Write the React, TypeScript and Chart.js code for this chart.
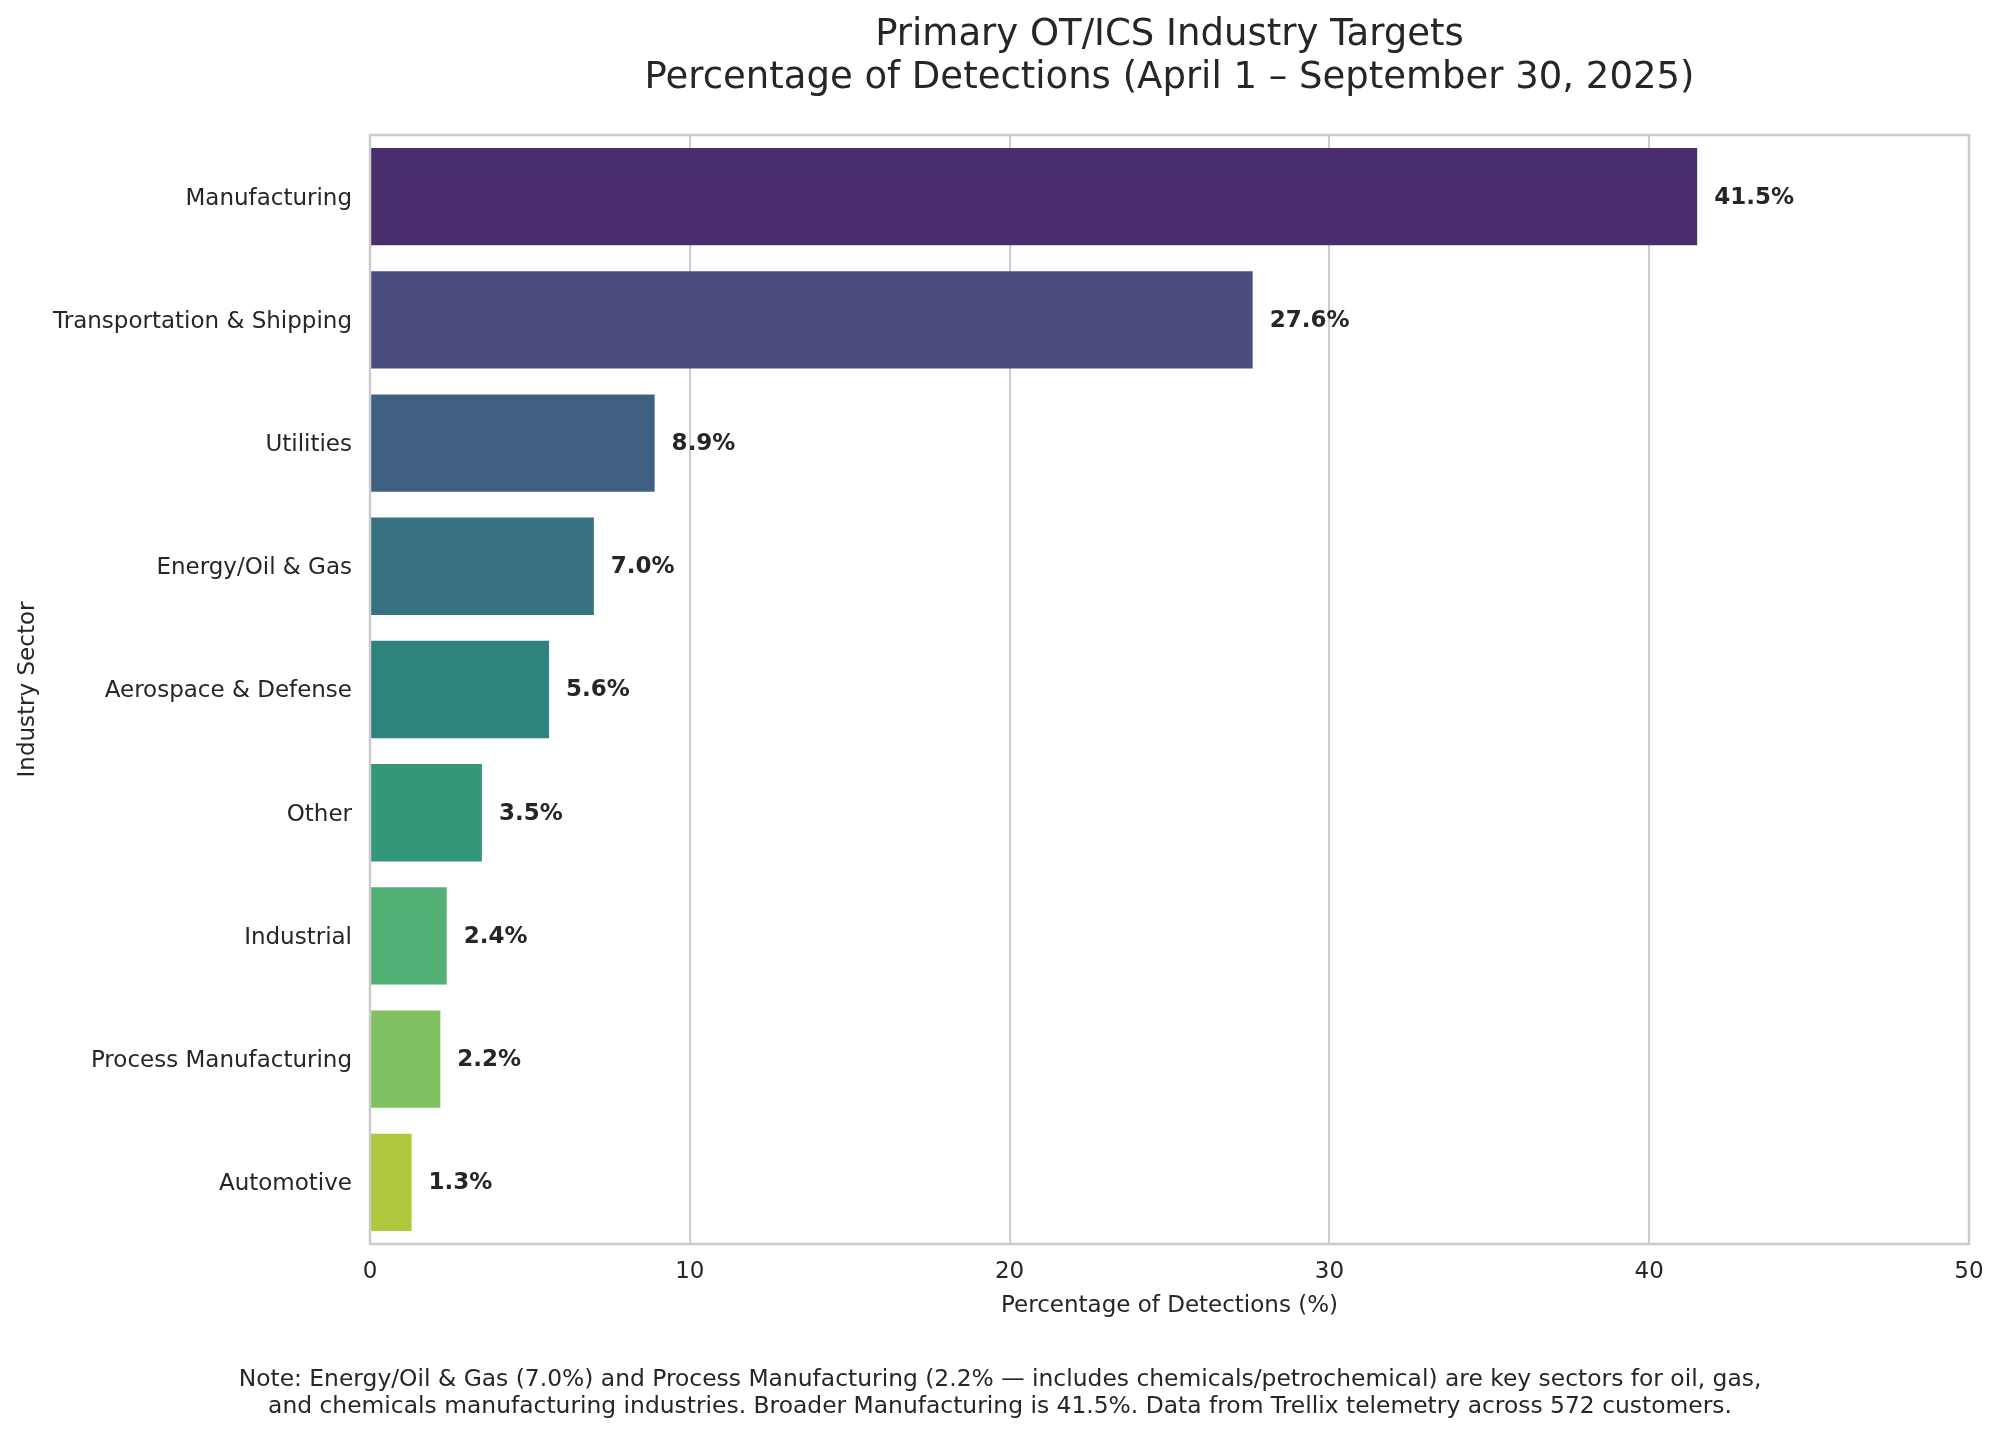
import { useEffect, useRef } from "react";
import { Chart, registerables } from "chart.js";

Chart.register(...registerables);

// Share of OT/ICS detections by industry sector
const sectors = [
  "Manufacturing",
  "Transportation & Shipping",
  "Utilities",
  "Energy/Oil & Gas",
  "Aerospace & Defense",
  "Other",
  "Industrial",
  "Process Manufacturing",
  "Automotive",
];
const detectionShare = [41.5, 27.6, 8.9, 7.0, 5.6, 3.5, 2.4, 2.2, 1.3];

// viridis steps, desaturated
const barColors = [
  "#492e6b",
  "#4a4c7e",
  "#406082",
  "#377182",
  "#2f837f",
  "#33977c",
  "#53b074",
  "#80c161",
  "#aec83d",
];

const xTicks = [0, 10, 20, 30, 40, 50];

const titleLines = [
  "Primary OT/ICS Industry Targets",
  "Percentage of Detections (April 1 \u2013 September 30, 2025)",
];
const xAxisTitle = "Percentage of Detections (%)";
const yAxisTitle = "Industry Sector";
const noteLines = [
  "Note: Energy/Oil & Gas (7.0%) and Process Manufacturing (2.2% \u2014 includes chemicals/petrochemical) are key sectors for oil, gas,",
  "and chemicals manufacturing industries. Broader Manufacturing is 41.5%. Data from Trellix telemetry across 572 customers.",
];

const FONT = "'DejaVu Sans', 'Liberation Sans', sans-serif";
const TEXT = "#262626";
const GRID = "#cccccc";
const W = 2000;
const H = 1435;

const decorations = {
  id: "decorations",
  afterDatasetsDraw(chart: any) {
    const ctx = chart.ctx as CanvasRenderingContext2D;
    const a = chart.chartArea;
    ctx.save();

    // axes frame
    ctx.strokeStyle = GRID;
    ctx.lineWidth = 2.5;
    ctx.strokeRect(a.left, a.top, a.right - a.left, a.bottom - a.top);

    // value labels at bar ends
    const meta = chart.getDatasetMeta(0);
    ctx.font = `bold 23px ${FONT}`;
    ctx.fillStyle = TEXT;
    ctx.textAlign = "left";
    ctx.textBaseline = "middle";
    meta.data.forEach((bar: any, i: number) => {
      ctx.fillText(`${detectionShare[i].toFixed(1)}%`, bar.x + 17, bar.y + 1);
    });

    const cx = (a.left + a.right) / 2;

    // title
    ctx.font = `37px ${FONT}`;
    ctx.textAlign = "center";
    ctx.textBaseline = "alphabetic";
    ctx.fillText(titleLines[0], cx, 45);
    ctx.fillText(titleLines[1], cx, 88);

    // axis titles
    ctx.font = `23px ${FONT}`;
    ctx.textBaseline = "middle";
    ctx.fillText(xAxisTitle, cx, 1306);
    ctx.save();
    ctx.translate(28, (a.top + a.bottom) / 2);
    ctx.rotate(-Math.PI / 2);
    ctx.fillText(yAxisTitle, 0, 0);
    ctx.restore();

    // footnote
    ctx.font = `23.4px ${FONT}`;
    ctx.fillText(noteLines[0], W / 2, 1380);
    ctx.fillText(noteLines[1], W / 2, 1407);

    ctx.restore();
  },
};

export default function App() {
  const canvasRef = useRef<HTMLCanvasElement | null>(null);

  useEffect(() => {
    document.body.style.margin = "0";
    const canvas = canvasRef.current;
    if (!canvas) return;

    const chart = new Chart(canvas, {
      type: "bar",
      data: {
        labels: sectors,
        datasets: [
          {
            data: detectionShare,
            backgroundColor: barColors,
            borderWidth: 0,
            barPercentage: 0.79,
            categoryPercentage: 1.0,
          },
        ],
      },
      options: {
        indexAxis: "y",
        responsive: false,
        maintainAspectRatio: false,
        animation: false,
        devicePixelRatio: 1,
        layout: { padding: { top: 135, right: 31, left: 0, bottom: 0 } },
        plugins: {
          legend: { display: false },
          tooltip: { enabled: false },
          title: { display: false },
        },
        scales: {
          x: {
            type: "linear",
            position: "bottom",
            min: 0,
            max: 50,
            afterBuildTicks: (scale: any) => {
              scale.ticks = xTicks.map((v) => ({ value: v }));
            },
            afterFit: (scale: any) => {
              scale.height = 191;
            },
            grid: {
              display: true,
              color: GRID,
              lineWidth: 2,
              drawTicks: false,
            },
            border: { display: false },
            ticks: {
              padding: 14,
              color: TEXT,
              font: { family: FONT, size: 23 },
              maxRotation: 0,
            },
          },
          y: {
            type: "category",
            position: "left",
            afterFit: (scale: any) => {
              scale.width = 370;
            },
            grid: { display: false, drawTicks: false },
            border: { display: false },
            ticks: {
              padding: 18,
              labelOffset: 2,
              color: TEXT,
              font: { family: FONT, size: 23 },
            },
          },
        },
      },
      plugins: [decorations],
    });

    return () => chart.destroy();
  }, []);

  return (
    <div style={{ position: "absolute", left: 0, top: 0, width: W, height: H, background: "#ffffff" }}>
      <canvas ref={canvasRef} width={W} height={H} style={{ width: W, height: H, display: "block" }} />
    </div>
  );
}
